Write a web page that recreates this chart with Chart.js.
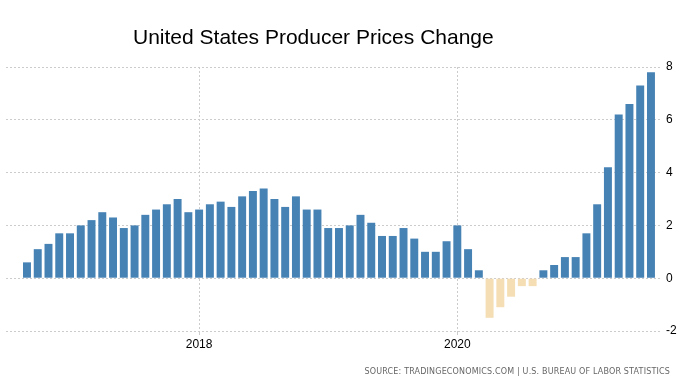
<!DOCTYPE html>
<html>
<head>
<meta charset="utf-8">
<script src="https://cdn.jsdelivr.net/npm/chart.js@4/dist/chart.umd.min.js"></script>
<style>
  body { margin: 0; background: #fff; }
  #wrap { position: relative; width: 692px; height: 388px; }
  #title {
    position: absolute; left: 133px; top: 25px;
    font: 21px "Liberation Sans", Arial, sans-serif; color: #000;
    white-space: nowrap;
  }
  #source {
    position: absolute; right: 22px; top: 367px;
    font: 8px "DejaVu Sans", Verdana, sans-serif; color: #666;
    letter-spacing: 0.17px; white-space: nowrap;
  }
</style>
</head>
<body>
<div id="wrap">
  <canvas id="ppiChart" width="692" height="388"></canvas>
  <div id="title">United States Producer Prices Change</div>
  <div id="source">SOURCE: TRADINGECONOMICS.COM | U.S. BUREAU OF LABOR STATISTICS</div>
</div>
<script>
// monthly categories, Sep 2016 .. Jul 2021
const months = [
  "2016-09","2016-10","2016-11","2016-12",
  "2017-01","2017-02","2017-03","2017-04","2017-05","2017-06","2017-07","2017-08","2017-09","2017-10","2017-11","2017-12",
  "2018-01","2018-02","2018-03","2018-04","2018-05","2018-06","2018-07","2018-08","2018-09","2018-10","2018-11","2018-12",
  "2019-01","2019-02","2019-03","2019-04","2019-05","2019-06","2019-07","2019-08","2019-09","2019-10","2019-11","2019-12",
  "2020-01","2020-02","2020-03","2020-04","2020-05","2020-06","2020-07","2020-08","2020-09","2020-10","2020-11","2020-12",
  "2021-01","2021-02","2021-03","2021-04","2021-05","2021-06","2021-07"
];

// year-over-year change, %
const ppiChange = [
  0.6, 1.1, 1.3, 1.7,
  1.7, 2.0, 2.2, 2.5, 2.3, 1.9, 2.0, 2.4, 2.6, 2.8, 3.0, 2.5,
  2.6, 2.8, 2.9, 2.7, 3.1, 3.3, 3.4, 3.0, 2.7, 3.1, 2.6, 2.6,
  1.9, 1.9, 2.0, 2.4, 2.1, 1.6, 1.6, 1.9, 1.5, 1.0, 1.0, 1.4,
  2.0, 1.1, 0.3, -1.5, -1.1, -0.7, -0.3, -0.3, 0.3, 0.5, 0.8, 0.8,
  1.7, 2.8, 4.2, 6.2, 6.6, 7.3, 7.8
];

const yearTicks = ["2018-01", "2020-01"];
const yTicks = [-2, 0, 2, 4, 6, 8];

const upColor = "#4682b4";
const downColor = "#f5deb3";
const gridColor = "#cccccc";

const points = months.map((m, i) => ({ x: i, y: ppiChange[i] }));
const tickIdx = yearTicks.map(t => months.indexOf(t));

new Chart(document.getElementById("ppiChart"), {
  type: "bar",
  data: {
    datasets: [{
      data: points,
      backgroundColor: ppiChange.map(v => v < 0 ? downColor : upColor),
      borderWidth: 0,
      barPercentage: 0.74,
      categoryPercentage: 1
    }]
  },
  options: {
    responsive: false,
    animation: false,
    layout: { padding: { top: 67, left: 6, right: 0, bottom: 37 } },
    plugins: {
      legend: { display: false },
      tooltip: { enabled: false }
    },
    scales: {
      x: {
        type: "linear",
        offset: false,
        min: -1.95,
        max: 58.84,
        afterBuildTicks: (scale) => {
          scale.ticks = tickIdx.map(v => ({ value: v }));
        },
        afterFit: (scale) => { scale.height = 20; },
        ticks: {
          autoSkip: false,
          maxRotation: 0,
          padding: 2,
          color: "#000",
          font: { family: "'Liberation Sans', Arial, sans-serif", size: 12 },
          callback: (v) => months[v] ? months[v].slice(0, 4) : ""
        },
        grid: {
          offset: false,
          color: gridColor,
          tickLength: 4,
          tickColor: gridColor
        },
        border: { display: false, dash: [2, 2] }
      },
      y: {
        position: "right",
        min: -2,
        max: 8,
        afterBuildTicks: (scale) => {
          scale.ticks = yTicks.map(v => ({ value: v }));
        },
        afterFit: (scale) => { scale.width = 32; },
        ticks: {
          padding: 6,
          color: "#000",
          font: { family: "'Liberation Sans', Arial, sans-serif", size: 12 }
        },
        grid: {
          color: gridColor,
          drawTicks: false
        },
        border: { display: false, dash: [2, 2] }
      }
    }
  }
});
</script>
</body>
</html>
